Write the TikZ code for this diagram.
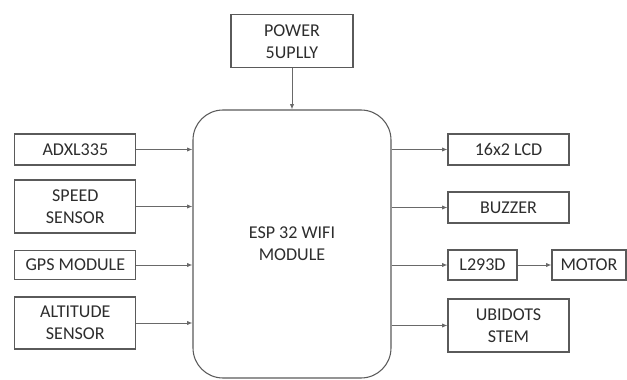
\documentclass[tikz,border=0pt]{standalone}
\usepackage{fontspec}
\setmainfont{Carlito}
\usepackage{xcolor}
\usepackage{tikz}
\usetikzlibrary{arrows.meta,positioning,calc}
\definecolor{edgegray}{RGB}{90, 90, 90}
\definecolor{linegray}{RGB}{105, 105, 105}
\definecolor{textgray}{RGB}{45, 45, 45}

\begin{document}
\begin{tikzpicture}[
  blockbox/.style={rectangle, draw=edgegray, fill=white, line width=0.9pt, minimum width=3.63cm, minimum height=0.93cm, inner sep=0pt, align=center, text=textgray, font=\fontsize{15.4}{18.8}\selectfont},
  mcubox/.style={blockbox, rounded corners=0.9cm, minimum width=5.94cm, minimum height=8.04cm},
  flowarrow/.style={-{Latex[length=4.5pt,width=3.6pt]}, line width=0.8pt, color=linegray}
]
\useasboundingbox (-8.76,-4.08) rectangle (10.05,7.32);

% Centre: controller and its supply
\node[mcubox] (esp) at (0, 0) {ESP 32 WIFI\\MODULE};
\node[blockbox, minimum width=3.66cm, minimum height=1.59cm] (power) at (0, 6.08) {POWER\\5UPLLY};

% Left column: inputs
\node[blockbox] (adxl) at (-6.5, 2.835) {ADXL335};
\node[blockbox, minimum height=1.59cm] (speed) at (-6.5, 1.125) {SPEED\\SENSOR};
\node[blockbox, minimum height=0.87cm] (gps) at (-6.5, -0.63) {GPS MODULE};
\node[blockbox, minimum height=1.56cm] (alt) at (-6.5, -2.37) {ALTITUDE\\SENSOR};

% Right column: outputs
\node[blockbox] (lcd) at (6.495, 2.835) {16x2 LCD};
\node[blockbox] (buzzer) at (6.495, 1.095) {BUZZER};
\node[blockbox, minimum width=2.07cm, minimum height=0.9cm] (driver) at (5.715, -0.63) {L293D};
\node[blockbox, minimum width=2.22cm, minimum height=0.9cm] (motor) at (8.91, -0.63) {MOTOR};
\node[blockbox, minimum height=1.59cm] (cloud) at (6.495, -2.445) {UBIDOTS\\STEM};

% Connectors
\draw[flowarrow] (power.south) -- (esp.north);
\foreach \src in {adxl, speed, gps, alt}
  \draw[flowarrow] (\src.east) -- (\src.east -| esp.west);
\foreach \dst in {lcd, buzzer, driver, cloud}
  \draw[flowarrow] (esp.east |- \dst.west) -- (\dst.west);
\draw[flowarrow] (driver.east) -- (motor.west);

\end{tikzpicture}
\end{document}
